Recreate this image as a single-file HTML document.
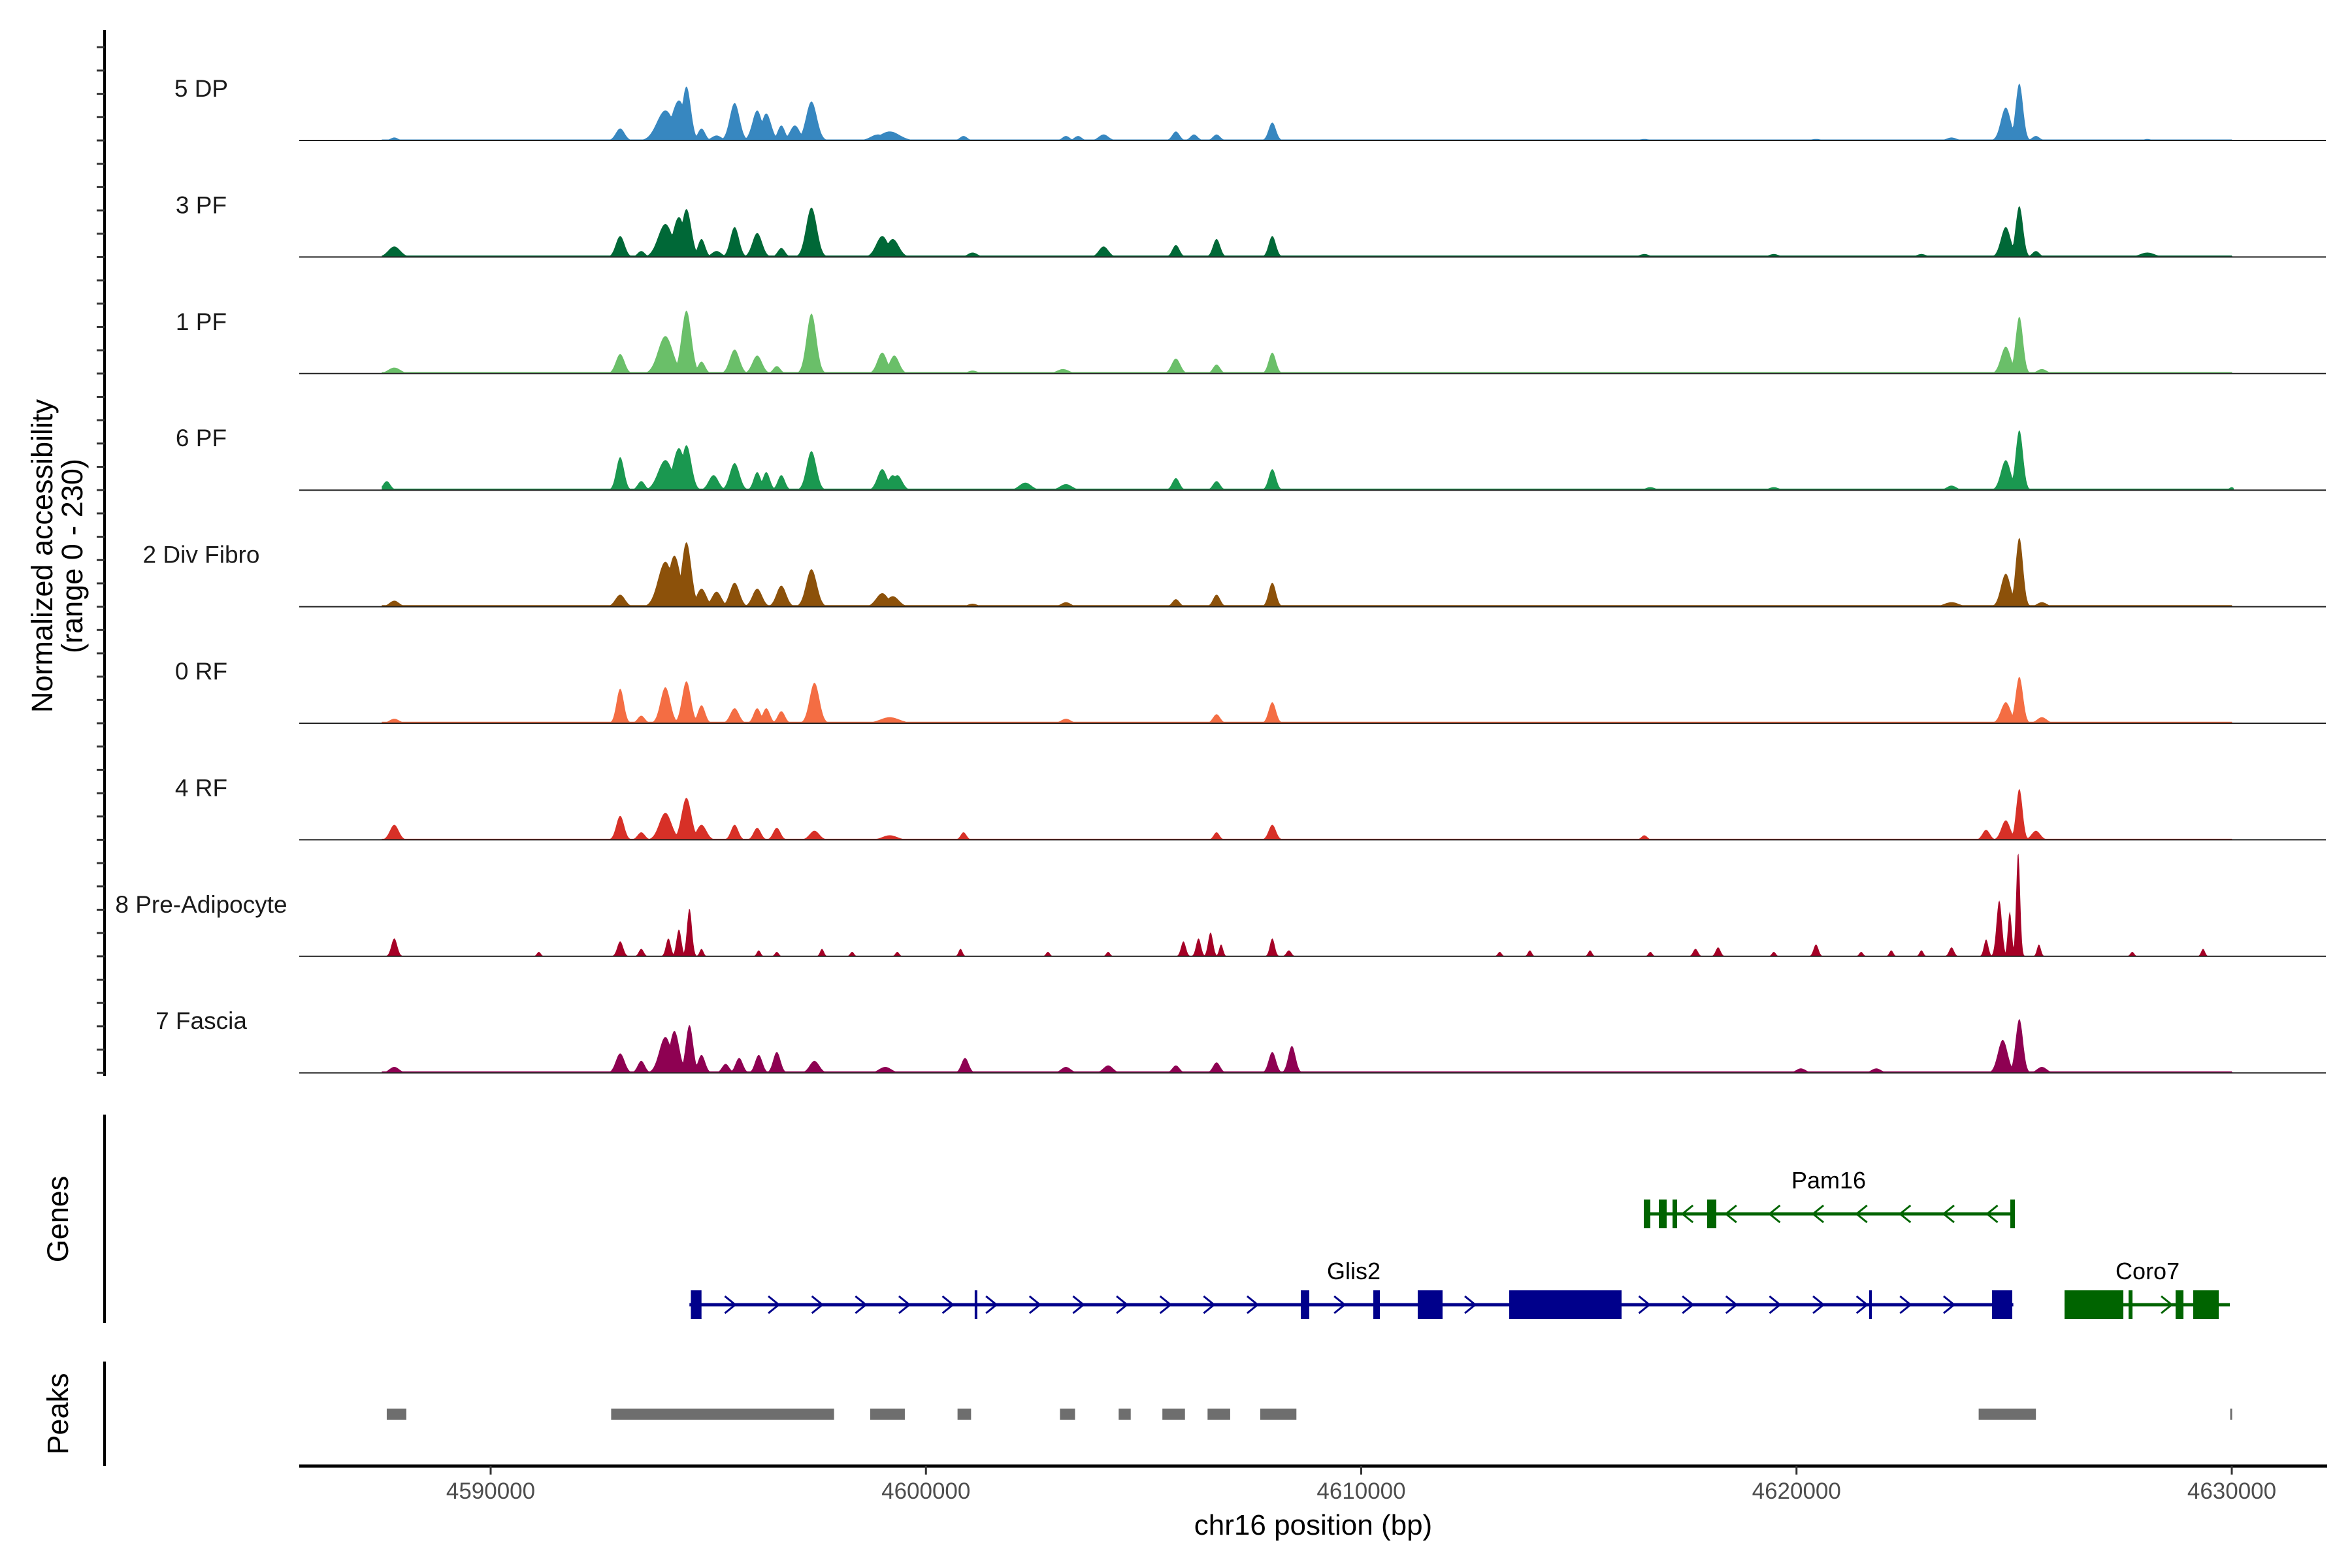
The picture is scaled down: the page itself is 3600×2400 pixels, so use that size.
<!DOCTYPE html>
<html><head><meta charset="utf-8"><style>
html,body{margin:0;padding:0;background:#fff;}
svg{display:block;font-family:"Liberation Sans",Arial,sans-serif;}
</style></head><body>
<svg id="chart" width="3600" height="2400" viewBox="0 0 3600 2400" xmlns="http://www.w3.org/2000/svg">
<rect width="3600" height="2400" fill="#fff"/>
<g id="tracks"></g>
<g id="genes"></g>
<g id="peaks"></g>
<g id="axes"></g>
</svg>
<script>
// ---------- data ----------
const trackNames = ["5 DP","3 PF","1 PF","6 PF","2 Div Fibro","0 RF","4 RF","8 Pre-Adipocyte","7 Fascia"];
const trackColors = ["#3787c0","#006837","#6abf69","#1a9850","#8c510a","#f46d43","#d73027","#a50026","#8e0152"];
const bgLevels = [2,3,3,3,3,3,2,0,3];
const peaksDP = [[4587786,6,150],[4592976,24,180],[4594014,60,350],[4594325,80,300],[4594498,108,180],[4594844,24,150],[4595190,10,200],[4595605,75,200],[4596124,60,200],[4596332,54,200],[4596678,30,150],[4596989,30,200],[4597370,78,220],[4598900,12,300],[4599169,18,400],[4600864,9,150],[4603217,9,150],[4603494,9,150],[4604082,12,200],[4605743,18,150],[4606158,12,150],[4606677,12,150],[4607957,36,150],[4616504,3,200],[4620448,3,200],[4623562,6,200],[4624808,66,200],[4625119,114,150],[4625500,9,150],[4628060,3,150]];
const peaks3PF = [[4587786,21,250],[4592976,42,180],[4593460,12,150],[4594014,66,300],[4594325,80,250],[4594498,96,200],[4594844,36,150],[4595190,12,200],[4595605,60,180],[4596124,48,200],[4596678,18,150],[4597370,99,220],[4598996,42,250],[4599238,36,250],[4601072,9,200],[4604082,21,200],[4605743,24,150],[4606677,36,150],[4607957,42,150],[4616504,6,200],[4619479,6,200],[4622870,6,200],[4624808,60,200],[4625119,102,150],[4625500,12,150],[4628060,9,300]];
const peaks1PF = [[4587786,12,250],[4592976,39,180],[4594014,75,300],[4594498,126,200],[4594844,24,150],[4595605,48,200],[4596124,36,200],[4596574,15,150],[4597370,120,200],[4598996,42,200],[4599273,36,200],[4601072,6,200],[4603148,9,250],[4605743,30,180],[4606677,18,150],[4607957,42,150],[4624808,54,200],[4625119,114,150],[4625638,9,200]];
const peaks6PF = [[4587613,18,150],[4592976,66,160],[4593460,18,150],[4594014,60,300],[4594325,84,250],[4594498,90,200],[4595121,30,200],[4595605,54,200],[4596124,36,150],[4596332,36,150],[4596678,30,150],[4597370,78,200],[4598996,42,200],[4599238,30,200],[4599342,30,200],[4602283,15,250],[4603217,12,250],[4605743,24,150],[4606677,18,150],[4607957,42,150],[4616642,6,200],[4619479,6,200],[4623562,9,200],[4624808,60,200],[4625119,120,150],[4629998,6,100]];
const peaksDiv = [[4587786,12,200],[4592976,24,200],[4594014,90,300],[4594221,102,250],[4594498,129,200],[4594844,36,200],[4595190,30,200],[4595605,48,200],[4596124,36,200],[4596678,42,200],[4597370,75,220],[4598996,27,250],[4599238,21,250],[4601072,6,200],[4603217,9,200],[4605743,15,150],[4606677,24,150],[4607957,48,150],[4623562,9,300],[4624808,66,200],[4625119,138,150],[4625638,9,200]];
const peaks0RF = [[4587786,9,200],[4592976,69,150],[4593460,15,150],[4594014,72,200],[4594498,84,180],[4594844,36,150],[4595605,30,180],[4596124,30,150],[4596332,30,150],[4596678,24,150],[4597439,81,200],[4599169,12,400],[4603217,9,200],[4606677,18,150],[4607957,42,150],[4624808,42,200],[4625119,93,150],[4625638,12,200]];
const peaks4RF = [[4587786,30,180],[4592976,48,160],[4593460,15,150],[4594014,54,250],[4594498,84,200],[4594844,30,200],[4595605,30,150],[4596124,24,150],[4596574,24,150],[4597439,18,200],[4599169,9,300],[4600864,15,120],[4606677,15,120],[4607957,30,150],[4616504,9,120],[4624356,20,150],[4624808,39,180],[4625119,102,130],[4625500,18,180]];
const peaksPre = [[4587786,36,120],[4591107,9,80],[4592976,30,120],[4593460,15,100],[4594083,36,100],[4594325,54,100],[4594567,96,100],[4594844,15,80],[4596159,12,80],[4596574,9,80],[4597612,15,80],[4598304,9,80],[4599342,9,80],[4600795,15,80],[4602802,9,80],[4604186,9,80],[4605916,30,100],[4606262,36,100],[4606539,48,100],[4606781,24,80],[4607957,36,100],[4608338,12,100],[4613182,9,80],[4613874,12,80],[4615258,12,80],[4616642,9,80],[4617680,15,100],[4618199,18,100],[4619479,9,80],[4620448,24,100],[4621486,9,80],[4622178,12,80],[4622870,12,80],[4623562,18,100],[4624356,34,90],[4624657,112,110],[4624900,90,80],[4625092,209,80],[4625569,24,80],[4627714,9,80],[4629340,15,80]];
const peaksFascia = [[4587786,12,200],[4592976,39,180],[4593460,24,150],[4594014,72,250],[4594221,84,200],[4594567,96,150],[4594844,36,150],[4595398,18,150],[4595709,30,150],[4596159,36,150],[4596574,42,150],[4597439,24,200],[4599065,12,250],[4600899,30,150],[4603217,12,200],[4604186,15,200],[4605743,15,150],[4606677,21,150],[4607957,42,150],[4608407,54,150],[4620102,9,200],[4621832,9,200],[4624738,66,200],[4625119,108,150],[4625638,12,200]];
const trackPeaks = [peaksDP,peaks3PF,peaks1PF,peaks6PF,peaksDiv,peaks0RF,peaks4RF,peaksPre,peaksFascia];
const bgRanges = [[4587500,4630000]];

const xTicks = [4590000,4600000,4610000,4620000,4630000];
const xTickLabels = ["4590000","4600000","4610000","4620000","4630000"];
const peakRegions = [[4587613,4588063],[4592768,4597889],[4598719,4599515],[4600726,4601037],[4603079,4603425],[4604428,4604705],[4605432,4605951],[4606470,4606989],[4607681,4608511],[4624185,4625500],[4629963,4629998]];

const geneNames = ["Glis2","Pam16","Coro7"];
const geneColors = ["#00008b","#006400","#006400"];
const geneStrand = [1,-1,1];
const geneRow = [1,0,1];
const geneSpan = [[4594567,4624981],[4616492,4625017],[4626158,4629955]];
const geneLabelPos = [4609827,4620739,4628065];
const glis2Exons = [[4594600,4594844],[4601120,4601160],[4608612,4608807],[4610278,4610428],[4611298,4611869],[4613400,4615981],[4621670,4621730],[4624492,4624957]];
const pam16Exons = [[4616492,4616642],[4616837,4617017],[4617152,4617257],[4617947,4618158],[4624912,4625017]];
const coro7Exons = [[4626158,4627509],[4627629,4627719],[4628709,4628889],[4629114,4629700]];
const geneExons = [glis2Exons,pam16Exons,coro7Exons];

// ---------- scales ----------
const X0 = 751, PXPERBP = 0.066625;
function xs(bp){ return X0 + (bp-4590000)*PXPERBP; }
const BASE0 = 215, TRACKSTEP = 178.4, YMAX = 230, TRACKH = 176;
function ys(i,v){ return BASE0 + i*TRACKSTEP - v/YMAX*TRACKH; }
const NS = "http://www.w3.org/2000/svg";
function mk(tag, attrs, parent){ const e=document.createElementNS(NS,tag); for(const k in attrs) e.setAttribute(k,attrs[k]); parent.appendChild(e); return e; }

// ---------- tracks ----------
const gT = document.getElementById('tracks');
trackNames.forEach((name,i)=>{
  const base = BASE0 + i*TRACKSTEP;
  const pk = trackPeaks[i];
  let d = "M"+xs(4587500).toFixed(1)+","+base;
  for(let bp=4587500; bp<=4630050; bp+=20){
    let v=0;
    for(const r of bgRanges){ if(bp>=r[0]&&bp<=r[1]) v=bgLevels[i]; }
    for(const p of pk){ const dd=Math.abs(bp-p[0]); if(dd<p[2]*2.5){ const q=dd/p[2]; const c=p[1]*Math.exp(-1.6*q*q); if(c>v) v=c; } }
    d += "L"+xs(bp).toFixed(1)+","+ys(i,v).toFixed(1);
  }
  d += "L"+xs(4630050).toFixed(1)+","+base+"Z";
  const path = mk('path',{d:d,fill:trackColors[i],stroke:'none'},gT);
  
  
  const bl = mk('line',{x1:458,x2:3560,y1:base,y2:base,stroke:'#222','stroke-width':2},gT);
  
  
  const t = mk('text',{x:308,y:base-67,'text-anchor':'middle','font-size':37,fill:'#1a1a1a'},gT);
  t.textContent = name;
  
  
});

// ---------- genes ----------
const gG = document.getElementById('genes');
const rowY = [1858,1997], labY = [1806,1945];
geneNames.forEach((g,gi)=>{
  const y = rowY[geneRow[gi]], col = geneColors[gi];
  const grp = mk('g',{},gG);
  
  
  mk('line',{x1:xs(geneSpan[gi][0]),x2:xs(geneSpan[gi][1]),y1:y,y2:y,stroke:col,'stroke-width':5},grp);
  for(let bp=Math.ceil(geneSpan[gi][0]/1000)*1000+500; bp<geneSpan[gi][1]; bp+=1000){
    const inEx = geneExons[gi].some(e=>bp>=e[0]-150&&bp<=e[1]+150);
    if(inEx) continue;
    const x = xs(bp), s = geneStrand[gi]*8;
    mk('path',{d:`M${x-s},${y-13}L${x+s},${y}L${x-s},${y+13}`,fill:'none',stroke:col,'stroke-width':3},grp);
  }
  geneExons[gi].forEach(e=>{
    const x1=xs(e[0]), w=Math.max(4,xs(e[1])-x1);
    mk('rect',{x:x1,y:y-22,width:w,height:44,fill:col},grp);
  });
  const t = mk('text',{x:xs(geneLabelPos[gi]),y:labY[geneRow[gi]]+13,'text-anchor':'middle','font-size':36,fill:'#000'},grp);
  t.textContent = g;
  
  
});

// ---------- peaks ----------
const gP = document.getElementById('peaks');
peakRegions.forEach(r=>{
  const x1=xs(r[0]), w=Math.max(3,xs(r[1])-x1);
  const rc = mk('rect',{x:x1,y:2156,width:w,height:17,fill:'#6e6e6e'},gP);
  
  
});

// ---------- axes ----------
const gA = document.getElementById('axes');
function vline(x,y1,y2,name){ const l=mk('line',{x1:x,x2:x,y1:y1,y2:y2,stroke:'#000','stroke-width':4},gA);   }
vline(160,46,1647,'y-axis-line');
vline(160,1706,2025,'genes-axis-line');
vline(160,2084,2244,'peaks-axis-line');
for(let i=0;i<trackNames.length;i++){
  for(let k=0;k<5;k++){
    const y = BASE0 + i*TRACKSTEP - k*TRACKSTEP/5;
    const tk = mk('line',{x1:148,x2:160,y1:y,y2:y,stroke:'#333','stroke-width':3},gA);
    
    
  }
}
const xl = mk('line',{x1:458,x2:3562,y1:2244,y2:2244,stroke:'#000','stroke-width':5},gA);


xTicks.forEach((v,i)=>{
  const x=xs(v);
  const tk=mk('line',{x1:x,x2:x,y1:2244,y2:2257,stroke:'#333','stroke-width':3},gA);
  
  
  const t=mk('text',{x:x,y:2294,'text-anchor':'middle','font-size':35,fill:'#4d4d4d'},gA);
  t.textContent = xTickLabels[i];
  
  
});
function txt(str,attrs,name){ const t=mk('text',attrs,gA); t.textContent=str;   return t; }
txt("chr16 position (bp)",{x:2010,y:2349,'text-anchor':'middle','font-size':44,fill:'#000'},'x-axis-title');
txt("Normalized accessibility",{x:0,y:0,'text-anchor':'middle','font-size':45,fill:'#000',transform:'translate(80,851) rotate(-90)'},'y-axis-title');
txt("(range 0 - 230)",{x:0,y:0,'text-anchor':'middle','font-size':45,fill:'#000',transform:'translate(126,851) rotate(-90)'},'y-axis-range');
txt("Genes",{x:0,y:0,'text-anchor':'middle','font-size':45,fill:'#000',transform:'translate(104,1866) rotate(-90)'},'genes-axis-title');
txt("Peaks",{x:0,y:0,'text-anchor':'middle','font-size':45,fill:'#000',transform:'translate(104,2164) rotate(-90)'},'peaks-axis-title');
</script>
</body></html>
